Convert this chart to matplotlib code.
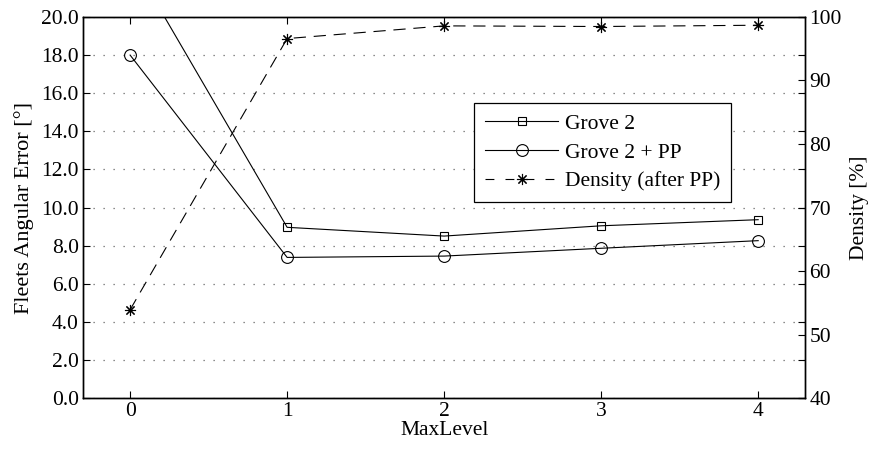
import matplotlib
matplotlib.use('Agg')
import matplotlib.pyplot as plt
from matplotlib.lines import Line2D

plt.rcParams['font.family'] = ['Liberation Serif', 'DejaVu Serif']
plt.rcParams['font.size'] = 15.5

# measurements per MaxLevel
max_level = [0, 1, 2, 3, 4]
grove2 = [23.1, 8.96, 8.50, 9.04, 9.36]
grove2_pp = [18.0, 7.38, 7.45, 7.86, 8.26]
density = [53.9, 96.6, 98.6, 98.5, 98.7]

left_ticks = [0, 2, 4, 6, 8, 10, 12, 14, 16, 18, 20]
right_ticks = [40, 50, 60, 70, 80, 90, 100]

fig = plt.figure(figsize=(8.83, 4.54), dpi=100)
ax = fig.add_axes([0.094, 0.1233, 0.818, 0.8393])
ax2 = ax.twinx()

ax.plot(max_level, grove2, 'k-', lw=0.8, marker='s', ms=6, mfc='none', mew=0.8)
ax.plot(max_level, grove2_pp, 'k-', lw=0.8, marker='o', ms=8.5, mfc='none', mew=0.8)
ax2.plot(max_level, density, 'k--', lw=0.8, dashes=(11, 7), marker=(8, 2, 0), ms=8, mew=0.8)

ax.set_xlim(-0.3, 4.3)
ax.set_ylim(0, 20)
ax2.set_ylim(40, 100)
ax.set_xticks(max_level)
ax.set_yticks(left_ticks)
ax.set_yticklabels(['%.1f' % t for t in left_ticks])
ax2.set_yticks(right_ticks)

ax.yaxis.grid(True, linestyle=(0, (1, 7)), color='0.4', lw=0.9)
ax.set_axisbelow(True)

ax.tick_params(direction='in', top=True, right=True, length=5, width=0.8, pad=3)
ax2.tick_params(direction='in', length=5, width=0.8, pad=3)
for a in (ax, ax2):
    for s in a.spines.values():
        s.set_linewidth(1.0)

ax.set_xlabel('MaxLevel', labelpad=0)
ax.set_ylabel('Fleets Angular Error [°]', labelpad=5, fontsize=16)
ax2.set_ylabel('Density [%]', labelpad=6)

handles = [
    Line2D([], [], color='k', lw=0.8, marker='s', ms=6, mfc='none', mew=0.8),
    Line2D([], [], color='k', lw=0.8, marker='o', ms=8.5, mfc='none', mew=0.8),
    Line2D([], [], color='k', lw=0.8, ls='--', dashes=(8, 10), marker=(8, 2, 0), ms=8, mew=0.8),
]
labels = ['Grove 2', 'Grove 2 + PP', 'Density (after PP)']
leg = ax2.legend(handles, labels, loc='upper left', bbox_to_anchor=(0.537, 0.773),
                 bbox_transform=fig.transFigure, fancybox=False, framealpha=1,
                 edgecolor='k', handlelength=3.4, handletextpad=0.3,
                 borderpad=0.5, labelspacing=0.4, borderaxespad=0)
leg.get_frame().set_linewidth(0.9)

fig.savefig('out.png', dpi=100)
